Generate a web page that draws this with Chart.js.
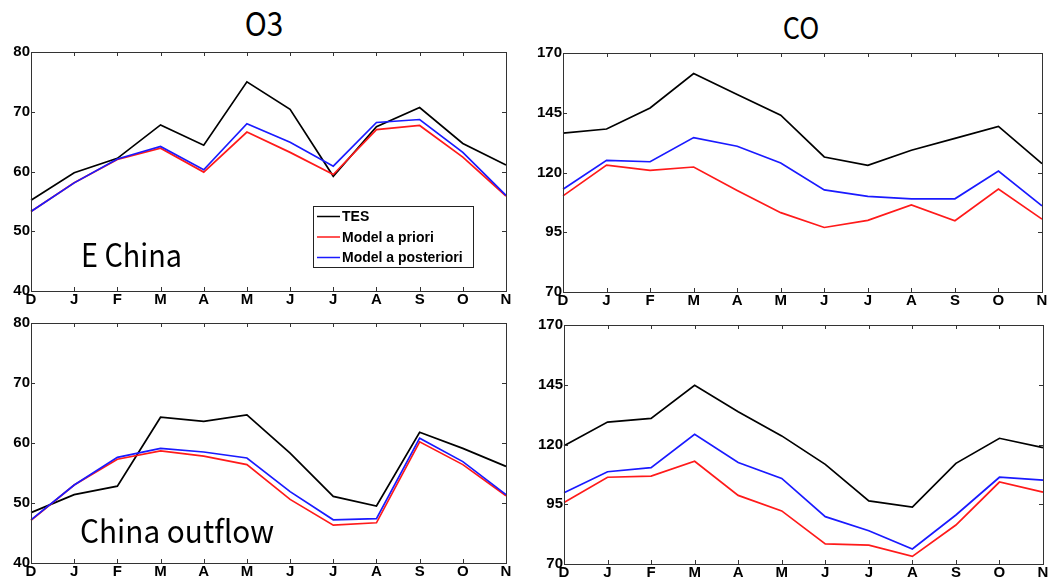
<!DOCTYPE html>
<html>
<head>
<meta charset="utf-8">
<script src="https://cdn.jsdelivr.net/npm/chart.js@4.4.1/dist/chart.umd.min.js"></script>
<style>
  html, body { margin: 0; padding: 0; background: #fff; }
  body { width: 1051px; height: 582px; position: relative; overflow: hidden; }
  canvas { position: absolute; }
  .title { position: absolute; font-family: "Noto Sans CJK SC", "Noto Sans", sans-serif; color: #000; line-height: 1; white-space: nowrap; transform: translateX(-50%) scaleX(0.9); }
</style>
</head>
<body>
<div class="title" style="left:264px; top:6px; font-size:33px;">O3</div>
<div class="title" style="left:801px; top:11px; font-size:30px;">CO</div>
<canvas id="c1"></canvas>
<canvas id="c2"></canvas>
<canvas id="c3"></canvas>
<canvas id="c4"></canvas>
<script>
const months = ["D","J","F","M","A","M","J","J","A","S","O","N"];
const seriesNames = ["TES", "Model a priori", "Model a posteriori"];

// O3, E China
const o3EChinaTES   = [55.2, 59.8, 62.2, 67.8, 64.4, 75.0, 70.4, 59.2, 67.5, 70.7, 64.7, 61.1];
const o3EChinaPrior = [53.3, 58.1, 62.0, 63.9, 59.9, 66.6, 63.2, 59.5, 67.0, 67.7, 62.4, 55.9];
const o3EChinaPost  = [53.3, 58.1, 62.1, 64.2, 60.3, 68.0, 64.9, 60.9, 68.2, 68.7, 63.2, 56.0];

// CO, E China
const coEChinaTES   = [136.5, 138.2, 147.0, 161.4, 152.6, 144.0, 126.5, 123.0, 129.3, 134.3, 139.3, 123.7];
const coEChinaPrior = [110.2, 123.1, 120.9, 122.3, 112.5, 103.2, 97.0, 100.0, 106.4, 99.8, 113.1, 100.5];
const coEChinaPost  = [113.0, 125.1, 124.5, 134.6, 131.0, 124.0, 112.7, 110.0, 109.0, 109.0, 120.6, 106.0];

// O3, China outflow
const o3OutflowTES   = [48.4, 51.4, 52.8, 64.3, 63.6, 64.7, 58.3, 51.1, 49.5, 61.8, 59.1, 56.1];
const o3OutflowPrior = [47.1, 53.0, 57.3, 58.7, 57.8, 56.4, 50.6, 46.3, 46.7, 60.2, 56.4, 51.2];
const o3OutflowPost  = [47.2, 53.0, 57.6, 59.1, 58.5, 57.5, 51.9, 47.2, 47.4, 60.8, 56.9, 51.4];

// CO, China outflow
const coOutflowTES   = [119.5, 129.4, 130.9, 144.8, 133.7, 123.6, 111.7, 96.4, 93.8, 112.1, 122.6, 118.7];
const coOutflowPrior = [95.7, 106.3, 106.8, 113.0, 98.7, 92.2, 78.4, 77.9, 73.2, 86.3, 104.3, 100.1];
const coOutflowPost  = [99.8, 108.6, 110.3, 124.3, 112.5, 105.8, 89.8, 83.9, 76.3, 90.5, 106.3, 105.1];

const o3Ticks = [40, 50, 60, 70, 80];
const coTicks = [70, 95, 120, 145, 170];

const seriesColors = ["#000000", "#ff1a1a", "#1a1aff"];

const frameTicks = {
  id: 'frameTicks',
  afterDraw(chart) {
    const ctx = chart.ctx;
    const a = chart.chartArea;
    const xs = chart.scales.x, ys = chart.scales.y;
    ctx.save();
    ctx.strokeStyle = '#333';
    ctx.lineWidth = 1;
    ctx.strokeRect(Math.round(a.left) + 0.5, Math.round(a.top) + 0.5, Math.round(a.right - a.left), Math.round(a.bottom - a.top));
    const L = 4;
    ctx.beginPath();
    xs.ticks.forEach((t, i) => {
      const px = Math.round(xs.getPixelForTick(i)) + 0.5;
      ctx.moveTo(px, a.bottom); ctx.lineTo(px, a.bottom - L);
      ctx.moveTo(px, a.top); ctx.lineTo(px, a.top + L);
    });
    ys.ticks.forEach((t, i) => {
      const py = Math.round(ys.getPixelForTick(i)) + 0.5;
      ctx.moveTo(a.left, py); ctx.lineTo(a.left + L, py);
      ctx.moveTo(a.right, py); ctx.lineTo(a.right - L, py);
    });
    ctx.stroke();

    const opts = chart.options.plugins.frameTicks || {};
    if (opts.legend) {
      const lg = opts.legend;
      ctx.fillStyle = '#fff';
      ctx.fillRect(lg.x, lg.y, lg.w, lg.h);
      ctx.strokeStyle = '#222';
      ctx.strokeRect(lg.x + 0.5, lg.y + 0.5, lg.w, lg.h);
      ctx.font = 'bold 14px "Liberation Sans", Arial, sans-serif';
      ctx.textBaseline = 'middle';
      ctx.textAlign = 'left';
      chart.data.datasets.forEach((ds, i) => {
        const y = lg.y + 10.5 + i * 20.5;
        ctx.strokeStyle = ds.borderColor;
        ctx.lineWidth = 1.5;
        ctx.beginPath();
        ctx.moveTo(lg.x + 4, y); ctx.lineTo(lg.x + 27, y);
        ctx.stroke();
        ctx.fillStyle = '#000';
        ctx.fillText(ds.label, lg.x + 29, y + 1);
      });
    }
    if (opts.text) {
      ctx.font = opts.text.font;
      ctx.fillStyle = '#000';
      ctx.textBaseline = 'alphabetic';
      ctx.textAlign = 'left';
      ctx.translate(opts.text.x, opts.text.y);
      ctx.scale(opts.text.sx, 1);
      ctx.fillText(opts.text.str, 0, 0);
    }
    ctx.restore();
  }
};

function makePanel(id, box, yTicks, data, pad, extra) {
  const cv = document.getElementById(id);
  cv.style.left = box.left + 'px';
  cv.style.top = box.top + 'px';
  cv.width = box.w; cv.height = box.h;
  cv.style.width = box.w + 'px'; cv.style.height = box.h + 'px';
  const tickFont = { family: '"Liberation Sans", Arial, sans-serif', size: 15, weight: 'bold' };
  return new Chart(cv, {
    type: 'line',
    data: {
      labels: months,
      datasets: data.map((d, i) => ({
        label: seriesNames[i],
        data: d,
        borderColor: seriesColors[i],
        backgroundColor: seriesColors[i],
        borderWidth: 1.7,
        pointRadius: 0,
        tension: 0,
        order: 3 - i
      }))
    },
    options: {
      responsive: false,
      animation: false,
      devicePixelRatio: 1,
      layout: { padding: { left: 0, top: pad.top, right: pad.right, bottom: 0 } },
      plugins: { legend: { display: false }, tooltip: { enabled: false }, frameTicks: extra || {} },
      scales: {
        x: {
          type: 'category',
          offset: false,
          grid: { display: false, drawTicks: false },
          border: { display: false },
          ticks: { color: '#000', font: tickFont, autoSkip: false, maxRotation: 0, padding: 0 },
          afterFit(s) { s.height = pad.xh; }
        },
        y: {
          min: yTicks[0], max: yTicks[yTicks.length - 1],
          afterBuildTicks(s) { s.ticks = yTicks.map(v => ({ value: v })); },
          grid: { display: false, drawTicks: false },
          border: { display: false },
          ticks: { color: '#000', font: tickFont, padding: 1 },
          afterFit(s) { s.width = pad.yw; }
        }
      }
    },
    plugins: [frameTicks]
  });
}

const bigFont = '32px "Noto Sans CJK SC", "Noto Sans", sans-serif';

makePanel('c1', { left: 0, top: 40, w: 530, h: 272 }, o3Ticks,
  [o3EChinaTES, o3EChinaPrior, o3EChinaPost],
  { top: 12, right: 24, xh: 21, yw: 31 },
  { legend: { x: 313, y: 166, w: 160, h: 61 },
    text: { str: 'E China', x: 81, y: 227, sx: 0.9, font: bigFont } });

makePanel('c2', { left: 525, top: 40, w: 526, h: 272 }, coTicks,
  [coEChinaTES, coEChinaPrior, coEChinaPost],
  { top: 13, right: 9, xh: 20, yw: 38 });

makePanel('c3', { left: 0, top: 310, w: 530, h: 272 }, o3Ticks,
  [o3OutflowTES, o3OutflowPrior, o3OutflowPost],
  { top: 13, right: 24, xh: 19, yw: 31 },
  { text: { str: 'China outflow', x: 80, y: 233, sx: 0.93, font: bigFont } });

makePanel('c4', { left: 525, top: 310, w: 526, h: 272 }, coTicks,
  [coOutflowTES, coOutflowPrior, coOutflowPost],
  { top: 15, right: 8, xh: 18, yw: 39 });
</script>
</body>
</html>
